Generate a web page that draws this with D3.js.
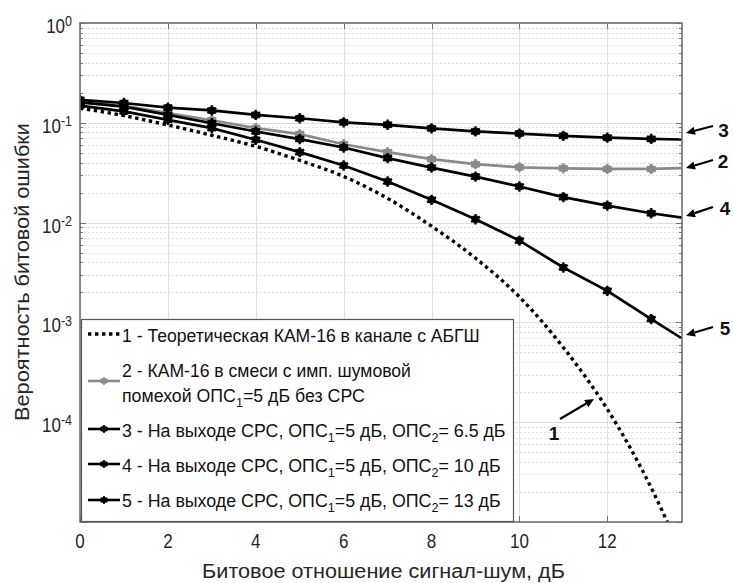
<!DOCTYPE html>
<html>
<head>
<meta charset="utf-8">
<script src="https://cdn.jsdelivr.net/npm/d3@7"></script>
<style>
  body { margin: 0; background: #fff; }
  svg { display: block; font-family: "Liberation Sans", Arial, sans-serif; }
</style>
</head>
<body>
<svg id="chart" width="733" height="583"></svg>
<script>
// Eb/N0 grid (dB) for the simulated curves; last point is the right edge of the axis
const snr = [0, 1, 2, 3, 4, 5, 6, 7, 8, 9, 10, 11, 12, 13, 13.7];

// 1 - theoretical 16-QAM in AWGN
const snrTheory = [0, 1, 2, 3, 4, 5, 6, 7, 8, 9, 10, 11, 12, 13, 13.5];
const berTheory = [0.140, 0.118, 0.095, 0.075, 0.058, 0.042, 0.029, 0.0175, 0.0092, 0.0044,
                   0.0018, 5.6e-4, 1.35e-4, 2.2e-5, 7.4e-6];

// 2 - 16-QAM with impulse noise, no SRS
const berNoSrs = [0.163, 0.148, 0.125, 0.106, 0.0885, 0.077, 0.061, 0.0508, 0.0432, 0.0385,
                  0.0358, 0.0350, 0.0345, 0.0345, 0.0352];
// 3 - SRS output, ОПС2 = 6.5 dB
const berSrs65 = [0.170, 0.158, 0.142, 0.133, 0.120, 0.111, 0.101, 0.0955, 0.088, 0.082,
                  0.078, 0.074, 0.071, 0.069, 0.068];
// 4 - SRS output, ОПС2 = 10 dB
const berSrs10 = [0.160, 0.145, 0.120, 0.099, 0.0818, 0.0687, 0.0565, 0.0443, 0.0356, 0.0289,
                  0.023, 0.018, 0.0148, 0.0124, 0.0112];
// 5 - SRS output, ОПС2 = 13 dB
const berSrs13 = [0.149, 0.130, 0.107, 0.0885, 0.0676, 0.0508, 0.0373, 0.0258, 0.0169, 0.0108,
                  0.0066, 0.00355, 0.00207, 0.00108, 6.9e-4];

const xTicks = [0, 2, 4, 6, 8, 10, 12];
const yDecades = [0, -1, -2, -3, -4, -5];
const yLabelled = [0, -1, -2, -3, -4];

const xLabel = "Битовое отношение сигнал-шум, дБ";
const yLabel = "Вероятность битовой ошибки";

// legend text: lists of [text, kind] pieces, kind "sub" marks a subscript
const legendRows = [
  { key: "theory", lines: [[["1 - Теоретическая КАМ-16 в канале с АБГШ", ""]]] },
  { key: "nosrs", lines: [[["2 - КАМ-16 в смеси с имп. шумовой", ""]],
                          [["помехой ОПС", ""], ["1", "sub"], ["=5 дБ без СРС", ""]]] },
  { key: "s65", lines: [[["3 - На выходе СРС, ОПС", ""], ["1", "sub"], ["=5 дБ, ОПС", ""], ["2", "sub"], ["= 6.5 дБ", ""]]] },
  { key: "s10", lines: [[["4 - На выходе СРС, ОПС", ""], ["1", "sub"], ["=5 дБ, ОПС", ""], ["2", "sub"], ["= 10 дБ", ""]]] },
  { key: "s13", lines: [[["5 - На выходе СРС, ОПС", ""], ["1", "sub"], ["=5 дБ, ОПС", ""], ["2", "sub"], ["= 13 дБ", ""]]] }
];

const svg = d3.select("#chart");
const L = 80, R = 682, T = 23, B = 522;

const x = d3.scaleLinear().domain([0, 13.7]).range([L, R]);
const y = d3.scaleLog().domain([1e-5, 1]).range([B, T]);

const gridColor = "#dedede";
const frameColor = "#707070";
const textColor = "#262626";
const SY = 1.15; // text is drawn slightly tall

// places a text at (px, py); optionally stretched/squeezed to a given advance width
function placeText(parent, o) {
  const g = parent.append("g");
  const t = g.append("text").attr("x", 0).attr("y", 0)
    .attr("font-size", o.size).attr("text-anchor", o.anchor || "start")
    .attr("fill", o.fill || textColor);
  if (o.weight) t.attr("font-weight", o.weight);
  o.build(t);
  let sx = 1;
  if (o.width) sx = o.width / t.node().getBBox().width;
  g.attr("transform", `translate(${o.x},${o.y}) rotate(${o.rotate || 0}) scale(${sx},${o.sy || SY})`);
  return g;
}
function pieces(list) {
  return t => {
    let shifted = false;
    list.forEach(([txt, kind]) => {
      const sp = t.append("tspan").text(txt);
      if (kind === "sub") { sp.attr("dy", 4).attr("font-size", 11); shifted = true; }
      else if (shifted) { sp.attr("dy", -4); shifted = false; }
    });
  };
}

svg.append("defs").append("clipPath").attr("id", "plotclip")
  .append("rect").attr("x", L).attr("y", T).attr("width", R - L).attr("height", B - T);

// grid
const grid = svg.append("g");
const minorVals = [];
yDecades.slice(0, -1).forEach(e => {
  for (let m = 2; m <= 9; m++) minorVals.push(m * Math.pow(10, e - 1));
});
grid.selectAll(".ymin").data(minorVals).join("line")
  .attr("x1", L).attr("x2", R)
  .attr("y1", d => Math.round(y(d)) + 0.5).attr("y2", d => Math.round(y(d)) + 0.5)
  .attr("stroke", gridColor).attr("stroke-width", 1).attr("stroke-dasharray", "2,2");
grid.selectAll(".ymaj").data(yDecades.map(e => Math.pow(10, e))).join("line")
  .attr("x1", L).attr("x2", R)
  .attr("y1", d => Math.round(y(d)) + 0.5).attr("y2", d => Math.round(y(d)) + 0.5)
  .attr("stroke", gridColor).attr("stroke-width", 1);
grid.selectAll(".xmaj").data(xTicks).join("line")
  .attr("y1", T).attr("y2", B)
  .attr("x1", d => Math.round(x(d)) + 0.5).attr("x2", d => Math.round(x(d)) + 0.5)
  .attr("stroke", gridColor).attr("stroke-width", 1);

// curves
const plot = svg.append("g").attr("clip-path", "url(#plotclip)");
const line = d3.line().x(d => x(d[0])).y(d => y(d[1]));
const smooth = d3.line().x(d => x(d[0])).y(d => y(d[1])).curve(d3.curveMonotoneX);

const series = [
  { key: "nosrs", vals: berNoSrs, color: "#8a8a8a" },
  { key: "s13", vals: berSrs13, color: "#000" },
  { key: "s10", vals: berSrs10, color: "#000" },
  { key: "s65", vals: berSrs65, color: "#000" }
];
const colorOf = Object.fromEntries(series.map(s => [s.key, s.color]));

function drawMarker(g, cx, cy, color, k) {
  g.append("circle").attr("cx", cx).attr("cy", cy).attr("r", 4 * k).attr("fill", color);
  g.append("path").attr("transform", `translate(${cx},${cy})`)
    .attr("d", d3.symbol(d3.symbolAsterisk, 75 * k * k)())
    .attr("stroke", color).attr("stroke-width", 2.2 * k).attr("fill", "none");
}

// theoretical curve (dotted)
plot.append("path")
  .datum(snrTheory.map((s, i) => [s, berTheory[i]]))
  .attr("d", smooth)
  .attr("fill", "none").attr("stroke", "#000").attr("stroke-width", 3.4)
  .attr("stroke-dasharray", "3.4,3.6");

series.forEach(s => {
  const pts = snr.map((v, i) => [v, s.vals[i]]);
  plot.append("path").datum(pts).attr("d", line)
    .attr("fill", "none").attr("stroke", s.color).attr("stroke-width", 2.7)
    .attr("stroke-linejoin", "round");
  const mg = plot.append("g");
  pts.filter(p => Number.isInteger(p[0])).forEach(p => drawMarker(mg, x(p[0]), y(p[1]), s.color, 1));
});

// frame and ticks
const axes = svg.append("g");
axes.append("rect").attr("x", L).attr("y", T).attr("width", R - L).attr("height", B - T)
  .attr("fill", "none").attr("stroke", frameColor).attr("stroke-width", 1.6);
const tk = axes.append("g").attr("stroke", frameColor).attr("stroke-width", 1);
xTicks.forEach(t => {
  const px = Math.round(x(t)) + 0.5;
  tk.append("line").attr("x1", px).attr("x2", px).attr("y1", B).attr("y2", B - 6);
  tk.append("line").attr("x1", px).attr("x2", px).attr("y1", T).attr("y2", T + 6);
});
yDecades.map(e => Math.pow(10, e)).concat(minorVals).forEach(v => {
  const py = Math.round(y(v)) + 0.5;
  const len = minorVals.includes(v) ? 3 : 6;
  tk.append("line").attr("x1", L).attr("x2", L + len).attr("y1", py).attr("y2", py);
  tk.append("line").attr("x1", R).attr("x2", R - len).attr("y1", py).attr("y2", py);
});

// tick labels
const tl = svg.append("g");
xTicks.forEach(d => placeText(tl, { x: x(d), y: 548, size: 17, anchor: "middle",
  build: t => t.text(d) }));
yLabelled.forEach(e => placeText(tl, { x: 72, y: y(Math.pow(10, e)) + 10, size: 17, anchor: "end",
  build: t => {
    t.append("tspan").text("10");
    t.append("tspan").attr("dy", -6).attr("font-size", 12.5).text(e === 0 ? "0" : String(e));
  } }));

// axis labels
placeText(svg, { x: 383.5, y: 578, size: 17, anchor: "middle", width: 363, build: t => t.text(xLabel) });
placeText(svg, { x: 29, y: 272, size: 17, anchor: "middle", width: 298, rotate: -90, build: t => t.text(yLabel) });

// legend
const lg = svg.append("g");
const lgL = 81, lgR = 513, lgT = 319, lgB = 522;
lg.append("rect").attr("x", lgL + 0.5).attr("y", lgT + 0.5).attr("width", lgR - lgL).attr("height", lgB - lgT - 1)
  .attr("fill", "#fff").attr("stroke", "#555").attr("stroke-width", 1.2);
const rowBase = { theory: [342], nosrs: [377, 402], s65: [437], s10: [472], s13: [507] };
const rowEnd = { theory: [480], nosrs: [411, 365], s65: [506], s10: [501], s13: [501] };
const sampleY = { theory: 334, nosrs: 381, s65: 429, s10: 464, s13: 500 };
legendRows.forEach(row => {
  const sy = sampleY[row.key];
  if (row.key === "theory") {
    lg.append("line").attr("x1", 88).attr("x2", 120).attr("y1", sy).attr("y2", sy)
      .attr("stroke", "#000").attr("stroke-width", 3.4).attr("stroke-dasharray", "3.4,3.6");
  } else {
    const c = colorOf[row.key];
    lg.append("line").attr("x1", 88).attr("x2", 120).attr("y1", sy).attr("y2", sy)
      .attr("stroke", c).attr("stroke-width", 2.6);
    drawMarker(lg, 104, sy, c, 0.75);
  }
  row.lines.forEach((pcs, li) => {
    const x0 = 122;
    placeText(lg, { x: x0, y: rowBase[row.key][li], size: 15.5, fill: "#111",
      width: rowEnd[row.key][li] - x0, build: pieces(pcs) });
  });
});

// callouts pointing at the curves
const callouts = [
  { label: "3", head: [686, 133], tail: [713, 126], tx: 723.5, ty: 137 },
  { label: "2", head: [686, 168], tail: [713, 160], tx: 723, ty: 168 },
  { label: "4", head: [686, 216], tail: [713, 207], tx: 725, ty: 215 },
  { label: "5", head: [686, 335], tail: [713, 327], tx: 725, ty: 335 },
  { label: "1", head: [594, 399], tail: [560, 419], tx: 554, ty: 440 }
];
const ann = svg.append("g");
callouts.forEach(c => {
  const [hx, hy] = c.head, [tx0, ty0] = c.tail;
  const ang = Math.atan2(hy - ty0, hx - tx0);
  const hl = 9, hw = 4.2;
  const bx = hx - hl * Math.cos(ang), by = hy - hl * Math.sin(ang);
  ann.append("line").attr("x1", tx0).attr("y1", ty0).attr("x2", bx).attr("y2", by)
    .attr("stroke", "#000").attr("stroke-width", 2.2);
  ann.append("path").attr("d",
    `M${hx},${hy}L${bx + hw * Math.sin(ang)},${by - hw * Math.cos(ang)}L${bx - hw * Math.sin(ang)},${by + hw * Math.cos(ang)}Z`)
    .attr("fill", "#000");
  placeText(ann, { x: c.tx, y: c.ty, size: 19, anchor: "middle", weight: "bold", fill: "#111",
    sy: 1, build: t => t.text(c.label) });
});
</script>
</body>
</html>
